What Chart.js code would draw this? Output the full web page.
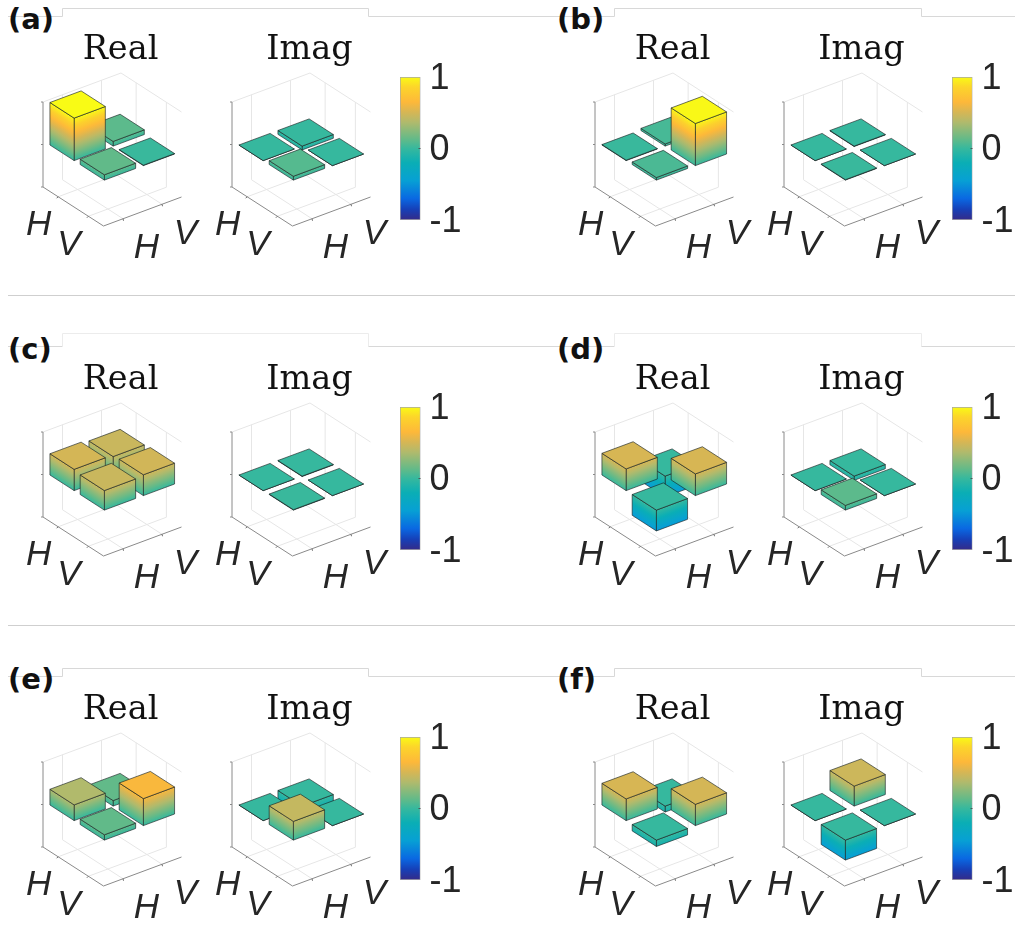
<!DOCTYPE html>
<html>
<head>
<meta charset="utf-8">
<script src="https://cdn.jsdelivr.net/npm/chart.js@4/dist/chart.umd.min.js"></script>
<style>
  html, body { margin: 0; padding: 0; background: #fff; }
  #page { position: relative; width: 1015px; height: 928px; overflow: hidden; }
  canvas { position: absolute; }
  .tag { position: absolute; font: bold 29px "DejaVu Sans"; color: #111; line-height: 34px; }
  svg { position: absolute; left: 0; top: 0; }
</style>
</head>
<body>
<div id="page">
  <svg width="1015" height="928" fill="none" stroke-width="1">
    <polyline stroke="#d8d8d8" points="8,16.5 62.5,16.5 62.5,8.5 368.5,8.5 368.5,16.5 614.5,16.5 614.5,8.5 921.5,8.5 921.5,16.5 1015,16.5"/>
    <polyline stroke="#d8d8d8" points="8,346.5 62.5,346.5"/>
    <polyline stroke="#ececec" points="62.5,346.5 62.5,333.5 368.5,333.5 368.5,346.5"/>
    <polyline stroke="#d8d8d8" points="368.5,346.5 614.5,346.5"/>
    <polyline stroke="#ececec" points="614.5,346.5 614.5,333.5 921.5,333.5 921.5,346.5"/>
    <polyline stroke="#d8d8d8" points="921.5,346.5 1015,346.5"/>
    <polyline stroke="#d8d8d8" points="8,676.5 62.5,676.5 62.5,668.5 368.5,668.5 368.5,676.5 614.5,676.5 614.5,668.5 921.5,668.5 921.5,676.5 1015,676.5"/>
    <line stroke="#cfcfcf" x1="8" y1="295.5" x2="1015" y2="295.5"/>
    <line stroke="#cfcfcf" x1="8" y1="625.5" x2="1015" y2="625.5"/>
  </svg>
</div>
<script>
// density matrix elements, order HH, HV, VH, VV
const panelTags = ['(a)', '(b)', '(c)', '(d)', '(e)', '(f)'];
const basis = ['H', 'V'];
const realA = [1.0, 0.11, 0.125, 0.01];
const imagA = [0.0, -0.09, 0.09, 0.0];
const realB = [0.01, 0.05, 0.06, 0.99];
const imagB = [0.0, -0.01, 0.01, 0.0];
const realC = [0.5, 0.46, 0.46, 0.49];
const imagC = [0.0, -0.01, 0.01, 0.0];
const realD = [0.51, -0.49, -0.49, 0.51];
const imagD = [0.0, -0.1, 0.11, 0.0];
const realE = [0.37, 0.13, 0.125, 0.635];
const imagE = [0.0, -0.44, 0.44, 0.0];
const realF = [0.51, -0.14, -0.15, 0.5];
const imagF = [0.0, 0.47, -0.47, 0.0];
const realParts = [realA, realB, realC, realD, realE, realF];
const imagParts = [imagA, imagB, imagC, imagD, imagE, imagF];
const colorTicks = [-1, 0, 1];

// colormap
const cmapAt = [-1, -0.85, -0.7, -0.45, -0.2, 0, 0.12, 0.37, 0.5, 0.65, 0.86, 1];
const cmapRgb = [[53,42,135],[22,64,184],[10,104,226],[7,160,212],[10,174,181],[54,184,158],
  [95,186,138],[177,186,108],[212,182,86],[253,184,58],[252,213,42],[249,251,21]];

function colorOf(v) {
  let i = 0;
  while (i < cmapAt.length - 2 && v > cmapAt[i + 1]) i++;
  const t = Math.max(0, Math.min(1, (v - cmapAt[i]) / (cmapAt[i + 1] - cmapAt[i])));
  const c = cmapRgb[i].map((k, n) => Math.round(k + (cmapRgb[i + 1][n] - k) * t));
  return `rgb(${c[0]},${c[1]},${c[2]})`;
}

// view of the 3D box, in scale units
const originX = 28, originY = 120;
const viewA = [30.25, 19.5], viewB = [39, -14.5], viewZ = 42.5;
const barHalf = 0.4;
const viewX = (a, b) => originX + (a - 0.5) * viewA[0] + (b - 0.5) * viewB[0];
const viewY = (a, b, z) => originY + (a - 0.5) * viewA[1] + (b - 0.5) * viewB[1] - (z + 1) * viewZ;

function projector(chart) {
  return (a, b, z) => [chart.scales.x.getPixelForValue(viewX(a, b)), chart.scales.y.getPixelForValue(viewY(a, b, z))];
}

function poly(ctx, pts) {
  ctx.beginPath();
  pts.forEach((p, i) => i ? ctx.lineTo(p[0], p[1]) : ctx.moveTo(p[0], p[1]));
  ctx.closePath();
}

function segment(ctx, p, q) {
  ctx.beginPath();
  ctx.moveTo(p[0], p[1]);
  ctx.lineTo(q[0], q[1]);
  ctx.stroke();
}

// iso-colour lines of a side face run along its top edge
function sideFill(ctx, low, high, edge, zLow, zHigh) {
  const len = Math.hypot(edge[0], edge[1]);
  const n = [-edge[1] / len, edge[0] / len];
  const d = (high[0] - low[0]) * n[0] + (high[1] - low[1]) * n[1];
  const g = ctx.createLinearGradient(low[0], low[1], low[0] + n[0] * d, low[1] + n[1] * d);
  for (let i = 0; i <= 12; i++) g.addColorStop(i / 12, colorOf(zLow + (zHigh - zLow) * i / 12));
  return g;
}

const box3d = {
  id: 'box3d',
  beforeDatasetsDraw(chart) {
    const ctx = chart.ctx, P = projector(chart);
    ctx.save();
    ctx.lineWidth = 1;
    ctx.strokeStyle = '#e6e6e6';
    [1, 2].forEach(k => {
      segment(ctx, P(k, 0.5, -1), P(k, 2.5, -1));
      segment(ctx, P(0.5, k, -1), P(2.5, k, -1));
      segment(ctx, P(0.5, k, -1), P(0.5, k, 1));
      segment(ctx, P(k, 2.5, -1), P(k, 2.5, 1));
    });
    segment(ctx, P(0.5, 0.5, 1), P(0.5, 2.5, 1));
    segment(ctx, P(0.5, 2.5, 1), P(2.5, 2.5, 1));
    ctx.strokeStyle = '#8a8a8a';
    segment(ctx, P(0.5, 0.5, -1), P(0.5, 0.5, 1));
    segment(ctx, P(0.5, 0.5, -1), P(2.5, 0.5, -1));
    segment(ctx, P(2.5, 0.5, -1), P(2.5, 2.5, -1));
    colorTicks.forEach(z => {
      const p = P(0.5, 0.5, z);
      segment(ctx, [p[0] - 2, p[1]], p);
    });
    ctx.fillStyle = '#262626';
    ctx.font = 'italic 35px "Liberation Sans"';
    ctx.textAlign = 'center';
    ctx.textBaseline = 'middle';
    basis.forEach((name, i) => {
      const k = i + 1;
      const pa = P(k, 0.5, -1), pb = P(2.5, k, -1);
      ctx.strokeStyle = '#6a6a6a';
      segment(ctx, pa, [pa[0] - 1.5, pa[1] + 1.5]);
      segment(ctx, pb, [pb[0] + 0.5, pb[1] + 2]);
      ctx.fillText(name, pa[0] - 19.5, pa[1] + 29);
      ctx.fillText(name, pb[0] + 23.5, pb[1] + 30);
    });
    ctx.restore();
  },
  afterDatasetsDraw(chart) {
    const ctx = chart.ctx, P = projector(chart);
    const cells = chart.data.datasets[0].data.slice().sort((p, q) => (p.a - p.b) - (q.a - q.b));
    ctx.save();
    ctx.lineWidth = 0.8;
    ctx.lineJoin = 'round';
    ctx.strokeStyle = 'rgba(25,35,35,0.8)';
    cells.forEach(c => {
      const a0 = c.a - barHalf, a1 = c.a + barHalf, b0 = c.b - barHalf, b1 = c.b + barHalf;
      const hi = Math.max(c.z, 0), lo = Math.min(c.z, 0);
      const sides = [
        [P(a1, b0, lo), P(a1, b1, lo), P(a1, b1, hi), P(a1, b0, hi)],
        [P(a0, b0, lo), P(a1, b0, lo), P(a1, b0, hi), P(a0, b0, hi)]
      ];
      sides.forEach(s => {
        poly(ctx, s);
        const edge = [s[2][0] - s[3][0], s[2][1] - s[3][1]];
        ctx.fillStyle = sideFill(ctx, s[0], s[3], edge, lo, hi);
        ctx.fill();
        ctx.stroke();
      });
      poly(ctx, [P(a0, b0, hi), P(a1, b0, hi), P(a1, b1, hi), P(a0, b1, hi)]);
      ctx.fillStyle = colorOf(hi);
      ctx.fill();
      ctx.stroke();
    });
    ctx.restore();
  }
};

const barTick = {
  id: 'barTick',
  afterDraw(chart) {
    const y = chart.scales.y.getPixelForValue(0), r = chart.chartArea.right;
    chart.ctx.save();
    chart.ctx.strokeStyle = '#4a5a5a';
    segment(chart.ctx, [r - 2, y], [r, y]);
    chart.ctx.restore();
  }
};

const page = document.getElementById('page');

function addCanvas(left, top, w, h) {
  const cv = document.createElement('canvas');
  cv.width = w;
  cv.height = h;
  cv.style.left = left + 'px';
  cv.style.top = top + 'px';
  cv.style.width = w + 'px';
  cv.style.height = h + 'px';
  page.appendChild(cv);
  return cv;
}

function drawPart(cornerX, cornerY, title, values) {
  const titleH = 36, plotH = 200;
  const cells = values.map((z, i) => {
    const a = i < 2 ? 1 : 2, b = i % 2 + 1;
    return { x: viewX(a, b), y: viewY(a, b, Math.max(z, 0)), a, b, z };
  });
  new Chart(addCanvas(cornerX - 28, cornerY - 156, 211, titleH + plotH), {
    type: 'scatter',
    data: { datasets: [{ data: cells, pointRadius: 0 }] },
    options: {
      responsive: false,
      animation: false,
      layout: { padding: 0 },
      scales: {
        x: { display: false, min: 0, max: 211 },
        y: { display: false, min: 0, max: plotH, reverse: true }
      },
      plugins: {
        legend: { display: false },
        tooltip: { enabled: false },
        title: {
          display: true,
          text: title,
          color: '#111',
          padding: { top: 2, bottom: 0 },
          font: { family: '"DejaVu Serif"', size: 33.5, weight: 'normal', lineHeight: 34 / 33.5 }
        }
      }
    },
    plugins: [box3d]
  });
}

function drawColorbar(left, top) {
  new Chart(addCanvas(left, top - 22, 80, 187), {
    type: 'bar',
    data: {
      labels: [''],
      datasets: [{
        data: [[colorTicks[0], colorTicks[2]]],
        barPercentage: 1,
        categoryPercentage: 1,
        borderWidth: 1,
        borderSkipped: false,
        borderColor: '#a8a8a8',
        backgroundColor(ctx) {
          const area = ctx.chart.chartArea;
          if (!area) return '#36b89e';
          const g = ctx.chart.ctx.createLinearGradient(0, area.bottom, 0, area.top);
          cmapAt.forEach(v => g.addColorStop((v + 1) / 2, colorOf(v)));
          return g;
        }
      }]
    },
    options: {
      responsive: false,
      animation: false,
      layout: { padding: { top: 22, bottom: 22, left: 0, right: 0 } },
      scales: {
        x: { display: false },
        y: {
          position: 'right',
          min: -1,
          max: 1,
          afterFit(s) { s.width = 59.5; s.paddingTop = 0; s.paddingBottom = 0; },
          grid: { display: false, drawTicks: false },
          border: { display: false },
          ticks: {
            stepSize: 1,
            padding: 9,
            crossAlign: 'near',
            labelOffset: 2,
            color: '#262626',
            font: { family: '"Liberation Sans"', size: 36 }
          }
        }
      },
      plugins: { legend: { display: false }, tooltip: { enabled: false } }
    },
    plugins: [barTick]
  });
}

panelTags.forEach((tag, i) => {
  const col = i % 2, row = Math.floor(i / 2);
  const cx = col ? 595 : 43, cy = 187 + row * 330;
  const el = document.createElement('div');
  el.className = 'tag';
  el.textContent = tag;
  el.style.left = (col ? 557 : 8) + 'px';
  el.style.top = (row * 330 + 2) + 'px';
  page.appendChild(el);
  drawPart(cx, cy, 'Real', realParts[i]);
  drawPart(cx + 189, cy, 'Imag', imagParts[i]);
  drawColorbar(cx + 357, cy - 110);
});
</script>
</body>
</html>
